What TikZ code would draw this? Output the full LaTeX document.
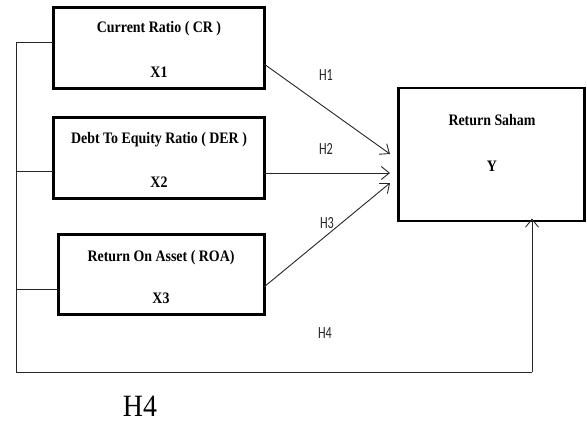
\documentclass[tikz,border=0pt]{standalone}
\usepackage{fontspec}
\setmainfont{Liberation Serif}
\newfontfamily\boxfont{Liberation Serif}[FakeStretch=0.87]
\newfontfamily\bigfont{Liberation Serif}[FakeStretch=0.9]
\newfontfamily\hfont{Carlito}[FakeStretch=0.72]
\usetikzlibrary{arrows.meta}
\begin{document}
\begin{tikzpicture}[x=1pt,y=-1pt,
  varbox/.style={draw=black,line width=3pt,minimum width=#1,inner sep=0pt,outer sep=0pt},
  btext/.style={font=\boxfont\bfseries\fontsize{16}{18}\selectfont,inner sep=0pt},
  hlab/.style={font=\hfont\fontsize{17}{19}\selectfont,inner sep=0pt,text=black!85},
  conn/.style={line width=0.9pt,draw=black!85},
  arr/.style={conn,-{Straight Barb[length=8pt,width=13pt,line width=0.9pt]}}]
\useasboundingbox (0,0) rectangle (587,423);
% boxes
\node[varbox=211pt,minimum height=81pt] (b1) at (158.5,47.5) {};
\node[varbox=211pt,minimum height=81pt] (b2) at (158.5,157.5) {};
\node[varbox=206pt,minimum height=80pt] (b3) at (161,274) {};
\node[varbox=186pt,minimum height=133pt,line width=2.5pt] (by) at (491.5,154.5) {};
% texts
\node[btext] (t1) at (159,29) {Current Ratio ( CR )};
\node[btext] (x1) at (159,72) {X1};
\node[btext] (t2) at (159,140) {Debt To Equity Ratio ( DER )};
\node[btext] (x2) at (159,182) {X2};
\node[btext] (t3) at (161,258) {Return On Asset ( ROA)};
\node[btext] (x3) at (161,298) {X3};
\node[btext] (ty) at (492,120) {Return Saham};
\node[btext] (yy) at (492,166) {Y};
% hypothesis labels
\node[hlab] (h1) at (326,75) {H1};
\node[hlab] (h2) at (326,149) {H2};
\node[hlab] (h3) at (327,223) {H3};
\node[hlab] (h4) at (325,333) {H4};
\node[font=\bigfont\fontsize{31}{33}\selectfont,inner sep=0pt] (big) at (140,406) {H4};
% bus
\coordinate (j1) at (16,42);
\coordinate (j2) at (16,171);
\coordinate (j3) at (16,289);
\coordinate (c1) at (16,372);
\coordinate (c2) at (532,372);
\draw[conn] (j1 -| b1.west) -- (j1) -- (c1) -- (c2);
\draw[conn] (j2) -- (j2 -| b2.west);
\draw[conn] (j3) -- (j3 -| b3.west);
\draw[arr] (c2) -- ([yshift=2.5pt]c2 |- by.south);
% arrows to Y
\coordinate (s1) at (264,64);
\coordinate (s2) at (264,173);
\coordinate (s3) at (264,287);
\coordinate (e1) at (390,154);
\coordinate (e2) at (390,173);
\coordinate (e3) at (390,183);
\draw[arr] (s1) -- (e1);
\draw[arr] (s2) -- (e2);
\draw[arr] (s3) -- (e3);
\end{tikzpicture}
\end{document}
